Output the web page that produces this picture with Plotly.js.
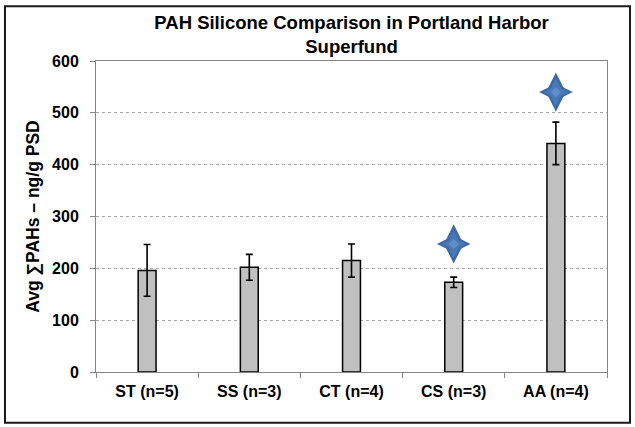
<!DOCTYPE html>
<html>
<head>
<meta charset="utf-8">
<script src="https://cdn.plot.ly/plotly-3.0.1.min.js"></script>
<style>html,body{margin:0;padding:0;background:#fff;}#chart{width:635px;height:427px;}</style>
</head>
<body>
<div id="chart"></div>
<script>
var categories = ["ST (n=5)", "SS (n=3)", "CT (n=4)", "CS (n=3)", "AA (n=4)"];
var avgValues = [196, 202, 215, 173, 441];
var errValues = [50, 25, 32, 10, 41];
var starCategories = ["CS (n=3)", "AA (n=4)"];
var starValues = [247, 540];
var yTicks = [0, 100, 200, 300, 400, 500, 600];

var fontFam = "Liberation Sans, Arial, sans-serif";

var bars = {
  type: "bar",
  x: categories,
  y: avgValues,
  width: 0.175,
  marker: {color: "#c0c0c0", line: {color: "#000000", width: 1.5}},
  error_y: {type: "data", array: errValues, visible: true, color: "#000000", thickness: 1.6, width: 3.5},
  hoverinfo: "skip"
};
function starLayer(symbol, size, color) {
  return {
    type: "scatter",
    mode: "markers",
    x: starCategories,
    y: starValues,
    marker: {symbol: symbol, size: size, color: color, line: {width: 0}},
    hoverinfo: "skip"
  };
}
var starTall = starLayer("diamond-tall", 28, "#3f6aa6");
var starWide = starLayer("diamond-wide", 24, "#3f6aa6");
var starMidT = starLayer("diamond-tall", 20, "#4a78b4");
var starMidW = starLayer("diamond-wide", 17, "#4a78b4");
var starCore = starLayer("diamond", 8, "#5f8dc8");

var layout = {
  width: 635,
  height: 427,
  margin: {l: 96, r: 28, t: 61, b: 55},
  paper_bgcolor: "#ffffff",
  plot_bgcolor: "#ffffff",
  showlegend: false,
  title: {
    text: "PAH Silicone Comparison in Portland Harbor<br>Superfund",
    font: {family: fontFam, size: 18.5, color: "#000000", weight: "bold"},
    xref: "paper", x: 0.5, xanchor: "center", y: 0.933, yanchor: "top"
  },
  xaxis: {
    type: "category",
    tickson: "boundaries",
    ticks: "outside",
    ticklen: 5,
    tickcolor: "#868686",
    showline: true,
    linecolor: "#868686",
    linewidth: 1,
    mirror: true,
    showgrid: false,
    ticklabelstandoff: 5,
    tickfont: {family: fontFam, size: 16, color: "#000000", weight: "bold"},
    range: [-0.5, 4.5]
  },
  yaxis: {
    range: [0, 600],
    tickvals: yTicks,
    ticks: "outside",
    ticklen: 5,
    tickcolor: "#868686",
    showline: true,
    linecolor: "#868686",
    linewidth: 1,
    mirror: true,
    showgrid: true,
    gridcolor: "#a8a8a8",
    griddash: "dot",
    gridwidth: 1,
    zeroline: false,
    ticklabelstandoff: 8,
    tickfont: {family: fontFam, size: 16, color: "#000000", weight: "bold"},
    title: {text: "Avg ∑PAHs – ng/g PSD", font: {family: fontFam, size: 17.5, color: "#000000", weight: "bold"}, standoff: 7}
  },
  shapes: [{
    type: "rect", xref: "paper", yref: "paper",
    x0: -0.1781, x1: 1.045, y0: -0.163, y1: 1.176,
    line: {color: "#1a1a1a", width: 2}, fillcolor: "rgba(0,0,0,0)"
  }]
};

Plotly.newPlot("chart", [bars, starTall, starWide, starMidT, starMidW, starCore], layout, {staticPlot: true, displayModeBar: false});
</script>
</body>
</html>
